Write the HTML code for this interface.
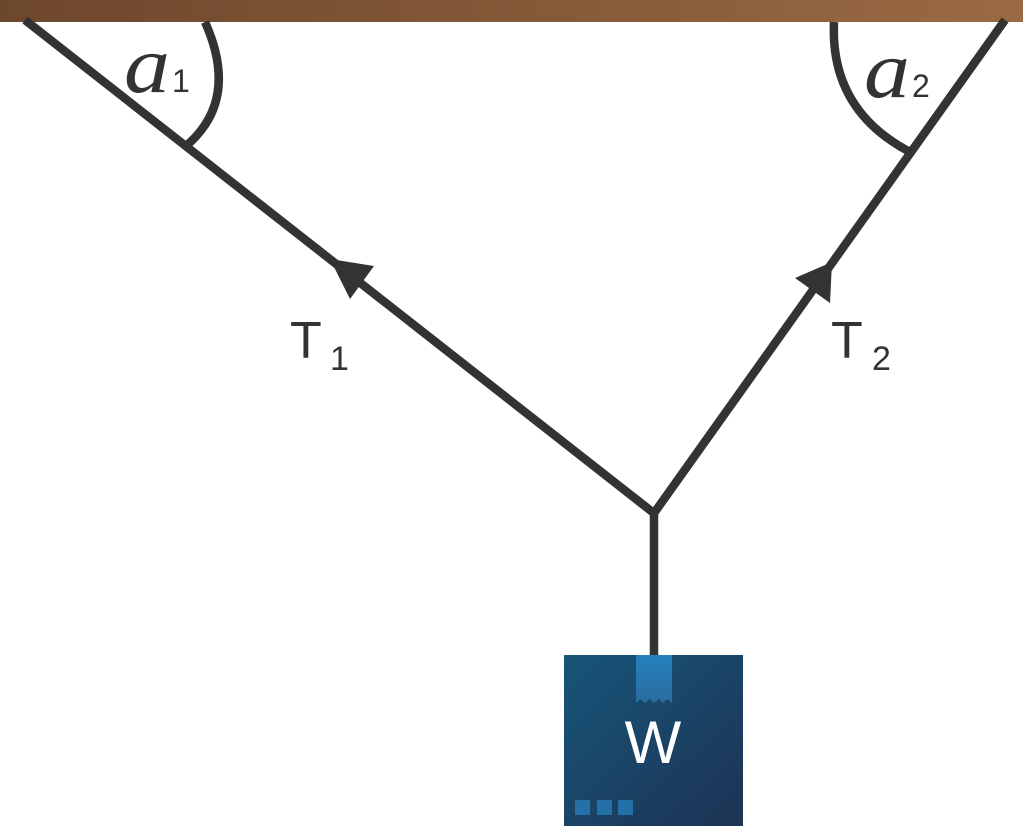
<!DOCTYPE html>
<html><head><meta charset="utf-8"><style>
html,body{margin:0;padding:0;background:#fff;width:1023px;height:827px;overflow:hidden}
</style></head><body>
<svg width="1023" height="827" viewBox="0 0 1023 827" xmlns="http://www.w3.org/2000/svg">
<defs>
<linearGradient id="bar" x1="0" x2="1" y1="0" y2="0"><stop offset="0" stop-color="#6d472c"/><stop offset="1" stop-color="#9a6a43"/></linearGradient>
<linearGradient id="box" x1="0" y1="0" x2="1" y2="1"><stop offset="0" stop-color="#175579"/><stop offset="1" stop-color="#1d3354"/></linearGradient>
<linearGradient id="tape" x1="0" y1="0" x2="0" y2="1"><stop offset="0" stop-color="#2380bb"/><stop offset="1" stop-color="#2a6da0"/></linearGradient>
</defs>
<rect x="0" y="0" width="1023" height="22" fill="url(#bar)"/>
<g stroke="#333" stroke-width="8.5" fill="none">
<line x1="25" y1="20" x2="655" y2="514"/>
<line x1="1005" y1="20" x2="652" y2="516"/>
<line x1="654" y1="512" x2="654" y2="656"/>
<path d="M205,22 Q240,100 186,146"/>
<path d="M834,22 Q830,110 910,152"/>
</g>
<polygon points="330,259 374,266 350,299" fill="#333"/>
<polygon points="832,262 795,278 830,303" fill="#333"/>
<g font-family="Liberation Serif, serif" font-style="italic" fill="#333">
<text x="124" y="92" font-size="82" textLength="46" lengthAdjust="spacingAndGlyphs">a</text>
<text x="864" y="97" font-size="82" textLength="46" lengthAdjust="spacingAndGlyphs">a</text>
</g>
<g font-family="Liberation Sans, sans-serif" fill="#333">
<text x="172" y="92" font-size="32">1</text>
<text x="912" y="97" font-size="32">2</text>
<text x="290" y="358" font-size="52">T</text>
<text x="330" y="370" font-size="34">1</text>
<text x="831" y="358" font-size="52">T</text>
<text x="872" y="370" font-size="34">2</text>
</g>
<rect x="564" y="655" width="179" height="171" fill="url(#box)"/>
<path d="M636,655 H672 V703 l-4.5,-4 l-4.5,4 l-4.5,-4 l-4.5,4 l-4.5,-4 l-4.5,4 l-4.5,-4 l-4.5,4 Z" fill="url(#tape)"/>
<text x="653" y="763" font-family="Liberation Sans, sans-serif" font-size="60" fill="#fff" text-anchor="middle">W</text>
<rect x="575" y="800" width="15" height="15" fill="#2471a8"/>
<rect x="597" y="800" width="15" height="15" fill="#2471a8"/>
<rect x="618" y="800" width="15" height="15" fill="#2471a8"/>
</svg>
</body></html>
